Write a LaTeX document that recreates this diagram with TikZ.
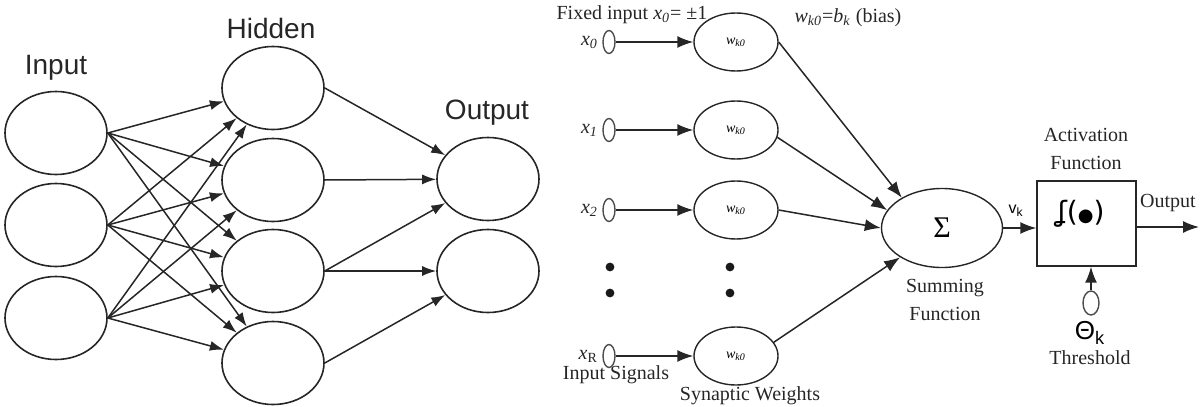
\documentclass[tikz,border=0pt]{standalone}
\usepackage{fontspec}
\setmainfont{Liberation Serif}
\newfontfamily\arial{Liberation Sans}
\newfontfamily\dejavu{DejaVu Sans}
\usetikzlibrary{shapes.geometric,arrows.meta,positioning}
\newcommand{\ivar}[2]{\textit{#1}\textsubscript{\textit{#2}}}
\begin{document}
\begin{tikzpicture}[x=0.5pt,y=-0.5pt,
  neuron/.style={draw=black!85,line width=0.8pt,ellipse,inner sep=0pt,minimum width=51pt,minimum height=41.5pt},
  weight/.style={draw=black!85,line width=0.7pt,ellipse,inner sep=0pt,minimum width=42pt,minimum height=29pt,font=\fontsize{7}{8}\selectfont},
  sig/.style={draw=black!70,line width=0.7pt,ellipse,inner sep=0pt,minimum width=6pt,minimum height=11.5pt},
  layer/.style={font=\arial\fontsize{14}{16}\selectfont,text=black!85},
  txt/.style={font=\fontsize{10}{14}\selectfont,text=black!85,align=center,inner sep=1pt},
  edge/.style={line width=0.75pt,draw=black!85,-{Latex[length=7pt,width=5pt]}},
  link/.style={line width=0.75pt,draw=black!85,-{Latex[length=8pt,width=6pt]}}]
\useasboundingbox (0,0) rectangle (1200,407);
\node[layer] (lin) at (56,68) {Input};
\node[layer] (lhid) at (271,28) {Hidden};
\node[layer] (lout) at (487,113) {Output};
\foreach \i/\y in {1/133,2/225,3/318} \node[neuron] (i\i) at (56,\y) {};
\foreach \i/\y in {1/88,2/180,3/271,4/363} \node[neuron] (h\i) at (273,\y) {};
\foreach \i/\y in {1/179,2/271} \node[neuron] (o\i) at (488,\y) {};
\foreach \i in {1,2,3} \foreach \j in {1,2,3,4} \draw[edge] (i\i.east) -- (h\j);
\foreach \a/\b in {1/1,2/1,3/1,3/2,4/2} \draw[edge] (h\a.east) -- (o\b);
\node[txt] (fixed) at (632,15) {Fixed input \ivar{x}{0}= ±1};
\node[txt] (bias) at (848,18) {\ivar{w}{k0}=\ivar{b}{k} (bias)};
\foreach \i/\y/\lab in {0/42/\ivar{x}{0},1/130/\ivar{x}{1},2/210/\ivar{x}{2},R/356/\textit{x}\textsubscript{R}} {
  \node[sig] (s\i) at (609,\y) {};
  \node[txt,left=1pt of s\i] (x\i) {\lab};
  \node[weight] (w\i) at (736,\y) {\ivar{w}{k0}};
  \draw[link] (s\i) -- (w\i);
}
\foreach \x in {610,730} \foreach \y in {267,293} \fill[black!90] (\x,\y) circle (2.2pt);
\node[draw=black!85,line width=0.7pt,ellipse,inner sep=0pt,minimum width=60.5pt,minimum height=39.5pt,font=\fontsize{15}{16}\selectfont] (sum) at (942,228) {Σ};
\draw[link] (w0.east) -- (sum.143);
\draw[link] (w1.-10) -- (sum.162);
\draw[link] (w2.east) -- (sum.180);
\draw[link] (wR.20) -- (sum.215);
\node[txt] (sumlab) at (945,300) {Summing\\Function};
\node[draw=black!85,line width=0.7pt,inner sep=0pt,minimum width=49.5pt,minimum height=42.5pt] (act) at (1086.5,223.5) {};
\node[font=\dejavu\fontsize{14}{16}\selectfont] (actfn) at (1081,214) {ʆ({\fontsize{9}{9}\selectfont●})};
\node[txt] (actlab) at (1086,149) {Activation\\Function};
\draw[link] (sum.east) -- (sum.east -| act.west);
\coordinate (outend) at (1199,227);
\draw[link] (act.east |- outend) -- (outend);
\node[txt] (outlab) at (1168,203) {Output};
\node[font=\arial\fontsize{8}{9}\selectfont] (vk) at (1016,211) {v\textsubscript{k}};
\node[sig,minimum width=8pt,minimum height=12pt] (thr) at (1091,303) {};
\draw[link] (thr) -- (thr |- act.south);
\node[font=\arial\fontsize{13}{14}\selectfont,inner sep=1pt] (theta) at (1090,333) {Θ\textsubscript{k}};
\node[txt] (thrlab) at (1090,358) {Threshold};
\node[txt] (inlab) at (616,375) {Input Signals};
\node[txt] (wlab) at (750,396) {Synaptic Weights};
\end{tikzpicture}
\end{document}
